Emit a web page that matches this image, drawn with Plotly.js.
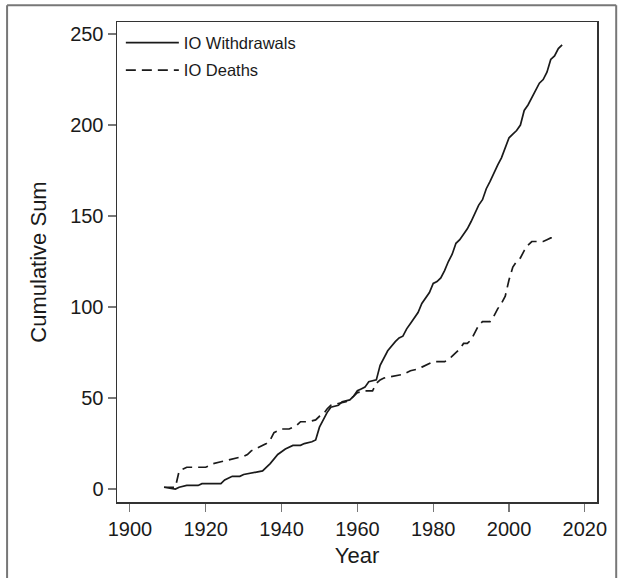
<!DOCTYPE html>
<html>
<head>
<meta charset="utf-8">
<script src="https://cdn.plot.ly/plotly-3.0.1.min.js"></script>
<style>html,body{margin:0;padding:0;background:#fff;}</style>
</head>
<body>
<div id="chart" style="width:621px;height:578px;"></div>
<script>
var withdrawalYears = [1909,1912,1913,1915,1918,1919,1924,1925,1927,1929,1930,1933,1935,1937,1939,1941,1943,1945,1946,1948,1949,1950,1951,1952,1953,1955,1956,1958,1959,1960,1961,1962,1963,1965,1966,1967,1968,1970,1971,1972,1973,1974,1975,1976,1977,1978,1979,1980,1981,1982,1983,1984,1985,1986,1987,1988,1989,1990,1991,1992,1993,1994,1995,1996,1997,1998,1999,2000,2001,2002,2003,2004,2005,2006,2007,2008,2009,2010,2011,2012,2013,2014];
var withdrawals = [1,0,1,2,2,3,3,5,7,7,8,9,10,14,19,22,24,24,25,26,27,34,38,42,45,46,48,49,51,54,55,56,59,60,68,72,76,81,83,84,88,91,94,97,102,105,108,113,114,116,120,125,129,135,137,140,143,147,152,156,159,165,169,174,178,182,187,193,195,197,200,208,211,215,219,223,225,229,236,238,242,244];

var deathYears = [1909,1912,1913,1914,1915,1920,1921,1922,1924,1926,1928,1930,1931,1932,1934,1936,1937,1938,1939,1940,1942,1944,1945,1947,1949,1950,1951,1952,1953,1955,1957,1958,1959,1960,1962,1964,1965,1966,1967,1970,1972,1974,1976,1977,1978,1979,1980,1983,1984,1985,1986,1987,1988,1989,1990,1991,1992,1993,1995,1996,1997,1998,1999,2000,2001,2002,2003,2004,2005,2006,2009,2010,2011,2012];
var deaths = [1,1,10,11,12,12,13,14,15,16,17,18,19,21,23,25,27,31,32,33,33,35,37,37,38,40,41,44,46,47,48,49,51,53,54,54,58,60,61,62,63,65,66,67,68,69,70,70,71,73,75,77,80,80,82,86,90,92,92,95,99,102,106,115,122,125,127,131,134,136,136,137,138,138];

var xTicks = [1900,1920,1940,1960,1980,2000,2020];
var yTicks = [0,50,100,150,200,250];

var FONT = 'Liberation Sans, Arial, Helvetica, sans-serif';
var INK = '#1a1a1a';
var traces = [
  {x: withdrawalYears, y: withdrawals, type: 'scatter', mode: 'lines', name: 'IO Withdrawals',
   legendgroup: 'a', line: {color: INK, width: 1.7}},
  {x: deathYears, y: deaths, type: 'scatter', mode: 'lines', name: 'IO Deaths',
   legendgroup: 'b', line: {color: INK, width: 1.7, dash: '10px,6px'}}
];

var layout = {
  width: 621, height: 578,
  margin: {l: 117, r: 24, t: 22, b: 76},
  paper_bgcolor: '#fff', plot_bgcolor: '#fff',
  font: {family: FONT, color: INK},
  showlegend: true,
  legend: {x: 0.008, y: 0.993, xanchor: 'left', yanchor: 'top', bgcolor: 'rgba(0,0,0,0)',
           font: {size: 16.5, family: FONT, color: INK}, traceorder: 'grouped', tracegroupgap: 3, itemwidth: 53},
  xaxis: {range: [1896.6, 2023.2], tickvals: xTicks, ticktext: xTicks.map(String),
          showgrid: false, zeroline: false, showline: true, mirror: true, linecolor: '#333', linewidth: 1.5,
          ticks: 'outside', ticklen: 8, tickcolor: '#777', tickwidth: 1.2,
          tickfont: {size: 20, family: FONT, color: INK},
          title: {text: 'Year', font: {size: 22, family: FONT, color: INK}, standoff: 9}},
  yaxis: {range: [-7.1, 256.6], tickvals: yTicks, ticktext: yTicks.map(String),
          showgrid: false, zeroline: false, showline: true, mirror: true, linecolor: '#333', linewidth: 1.5,
          ticks: 'outside', ticklen: 8, tickcolor: '#777', tickwidth: 1.2,
          tickfont: {size: 20, family: FONT, color: INK},
          title: {text: 'Cumulative Sum', font: {size: 22, family: FONT, color: INK}, standoff: 17}},
  shapes: [
    {type: 'line', xref: 'paper', yref: 'paper', x0: -0.229, x1: -0.229, y0: 1.035, y1: -0.2, line: {color: '#777', width: 2}},
    {type: 'line', xref: 'paper', yref: 'paper', x0: -0.229, x1: 1.04, y0: 1.035, y1: 1.035, line: {color: '#777', width: 2}},
    {type: 'line', xref: 'paper', yref: 'paper', x0: 1.04, x1: 1.04, y0: 1.035, y1: -0.2, line: {color: '#777', width: 2}}
  ]
};

Plotly.newPlot('chart', traces, layout, {displayModeBar: false, staticPlot: true});
</script>
</body>
</html>
